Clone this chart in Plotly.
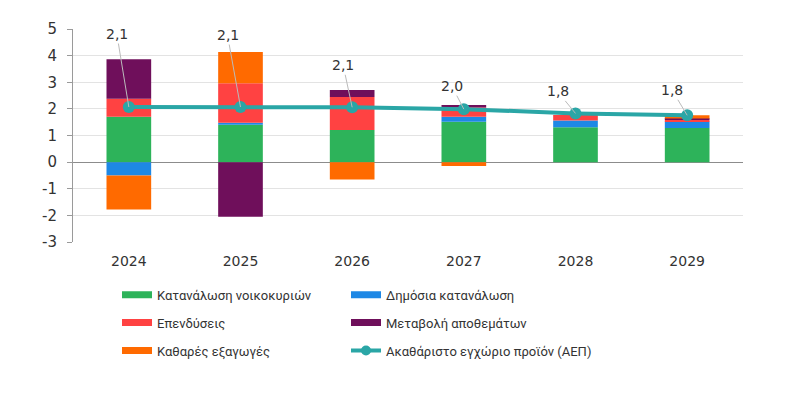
import plotly.graph_objects as go

years = ["2024", "2025", "2026", "2027", "2028", "2029"]
household = [1.70, 1.40, 1.21, 1.52, 1.31, 1.28]
government = [-0.50, 0.08, 0.00, 0.18, 0.25, 0.25]
investment = [0.68, 1.48, 1.24, 0.35, 0.21, 0.06]
inventories = [1.48, -2.05, 0.26, 0.10, 0.00, 0.05]
net_exports = [-1.28, 1.18, -0.65, -0.15, 0.00, 0.12]
gdp = [2.07, 2.07, 2.06, 1.99, 1.83, 1.76]
gdp_labels = ["2,1", "2,1", "2,1", "2,0", "1,8", "1,8"]
y_ticks = [-3, -2, -1, 0, 1, 2, 3, 4, 5]
y_tick_labels = ["-3", "-2", "-1", "0", "1", "2", "3", "4", "5"]

names = ["Κατανάλωση νοικοκυριών", "Δημόσια κατανάλωση", "Επενδύσεις",
         "Μεταβολή αποθεμάτων", "Καθαρές εξαγωγές"]
colors = ["#2DB35A", "#1E88E5", "#FF4242", "#6F0F5B", "#FF6A00"]
series = [household, government, investment, inventories, net_exports]
teal = "#2AA6A6"

fig = go.Figure()
for nm, col, vals in zip(names, colors, series):
    fig.add_trace(go.Bar(x=years, y=vals, name=nm, marker=dict(color=col, line=dict(width=0)),
                         showlegend=False))

fig.add_trace(go.Scatter(x=years, y=gdp, mode="lines+markers", showlegend=False,
                         line=dict(color=teal, width=4), marker=dict(size=12, color=teal)))

# legend entries
legend_of = ["legend", "legend2", "legend", "legend2", "legend"]
for i, (nm, col) in enumerate(zip(names, colors)):
    fig.add_trace(go.Scatter(x=[years[0]], y=[None], mode="lines", name=nm,
                             line=dict(color=col, width=7), legend=legend_of[i],
                             legendgroup="g%d" % i))
fig.add_trace(go.Scatter(x=[years[0]], y=[None], mode="lines+markers", name="Ακαθάριστο εγχώριο προϊόν (ΑΕΠ)",
                         line=dict(color=teal, width=4), marker=dict(size=10, color=teal),
                         legend="legend2", legendgroup="g5"))

offsets = [(-12, -73), (-13, -72), (-9, -42), (-12, -23), (-18, -22), (-15, -25)]
for i, (y, t, (ax, ay)) in enumerate(zip(gdp, gdp_labels, offsets)):
    fig.add_annotation(x=i, y=y, text=t, showarrow=True, arrowhead=0, arrowwidth=1,
                       arrowcolor="#BBBBBB", ax=ax, ay=ay,
                       font=dict(family="DejaVu Sans", size=14, color="#333333"))

legend_common = dict(orientation="v", yanchor="top", xanchor="left", tracegroupgap=8,
                     font=dict(family="Roboto", size=13, color="#333333"),
                     bgcolor="rgba(0,0,0,0)", itemwidth=30)
fig.update_layout(
    width=809, height=416,
    margin=dict(l=65, r=74, t=19, b=182),
    barmode="relative", bargap=0.6,
    plot_bgcolor="white", paper_bgcolor="white",
    font=dict(family="DejaVu Sans", size=13, color="#333333"),
    legend=dict(x=(126 - 9 - 73) / 670, y=-0.14 - 8 / 215, **legend_common),
    legend2=dict(x=(355 - 9 - 73) / 670, y=-0.14 - 8 / 215, **legend_common),
    xaxis=dict(type="category", range=[-0.5, len(years) - 0.5], showgrid=False,
               showline=False, ticks="", tickfont=dict(size=14), ticklabelstandoff=9),
    yaxis=dict(range=[-3, 5], tickvals=y_ticks, ticktext=y_tick_labels,
               showgrid=True, gridcolor="#E3E3E3",
               zeroline=True, zerolinecolor="#8C8C8C", zerolinewidth=1,
               showline=True, linecolor="#9A9A9A", ticks="outside", ticklen=5,
               tickcolor="#9A9A9A", tickfont=dict(size=15), ticklabelstandoff=7),
)
fig.write_html("out.html")
